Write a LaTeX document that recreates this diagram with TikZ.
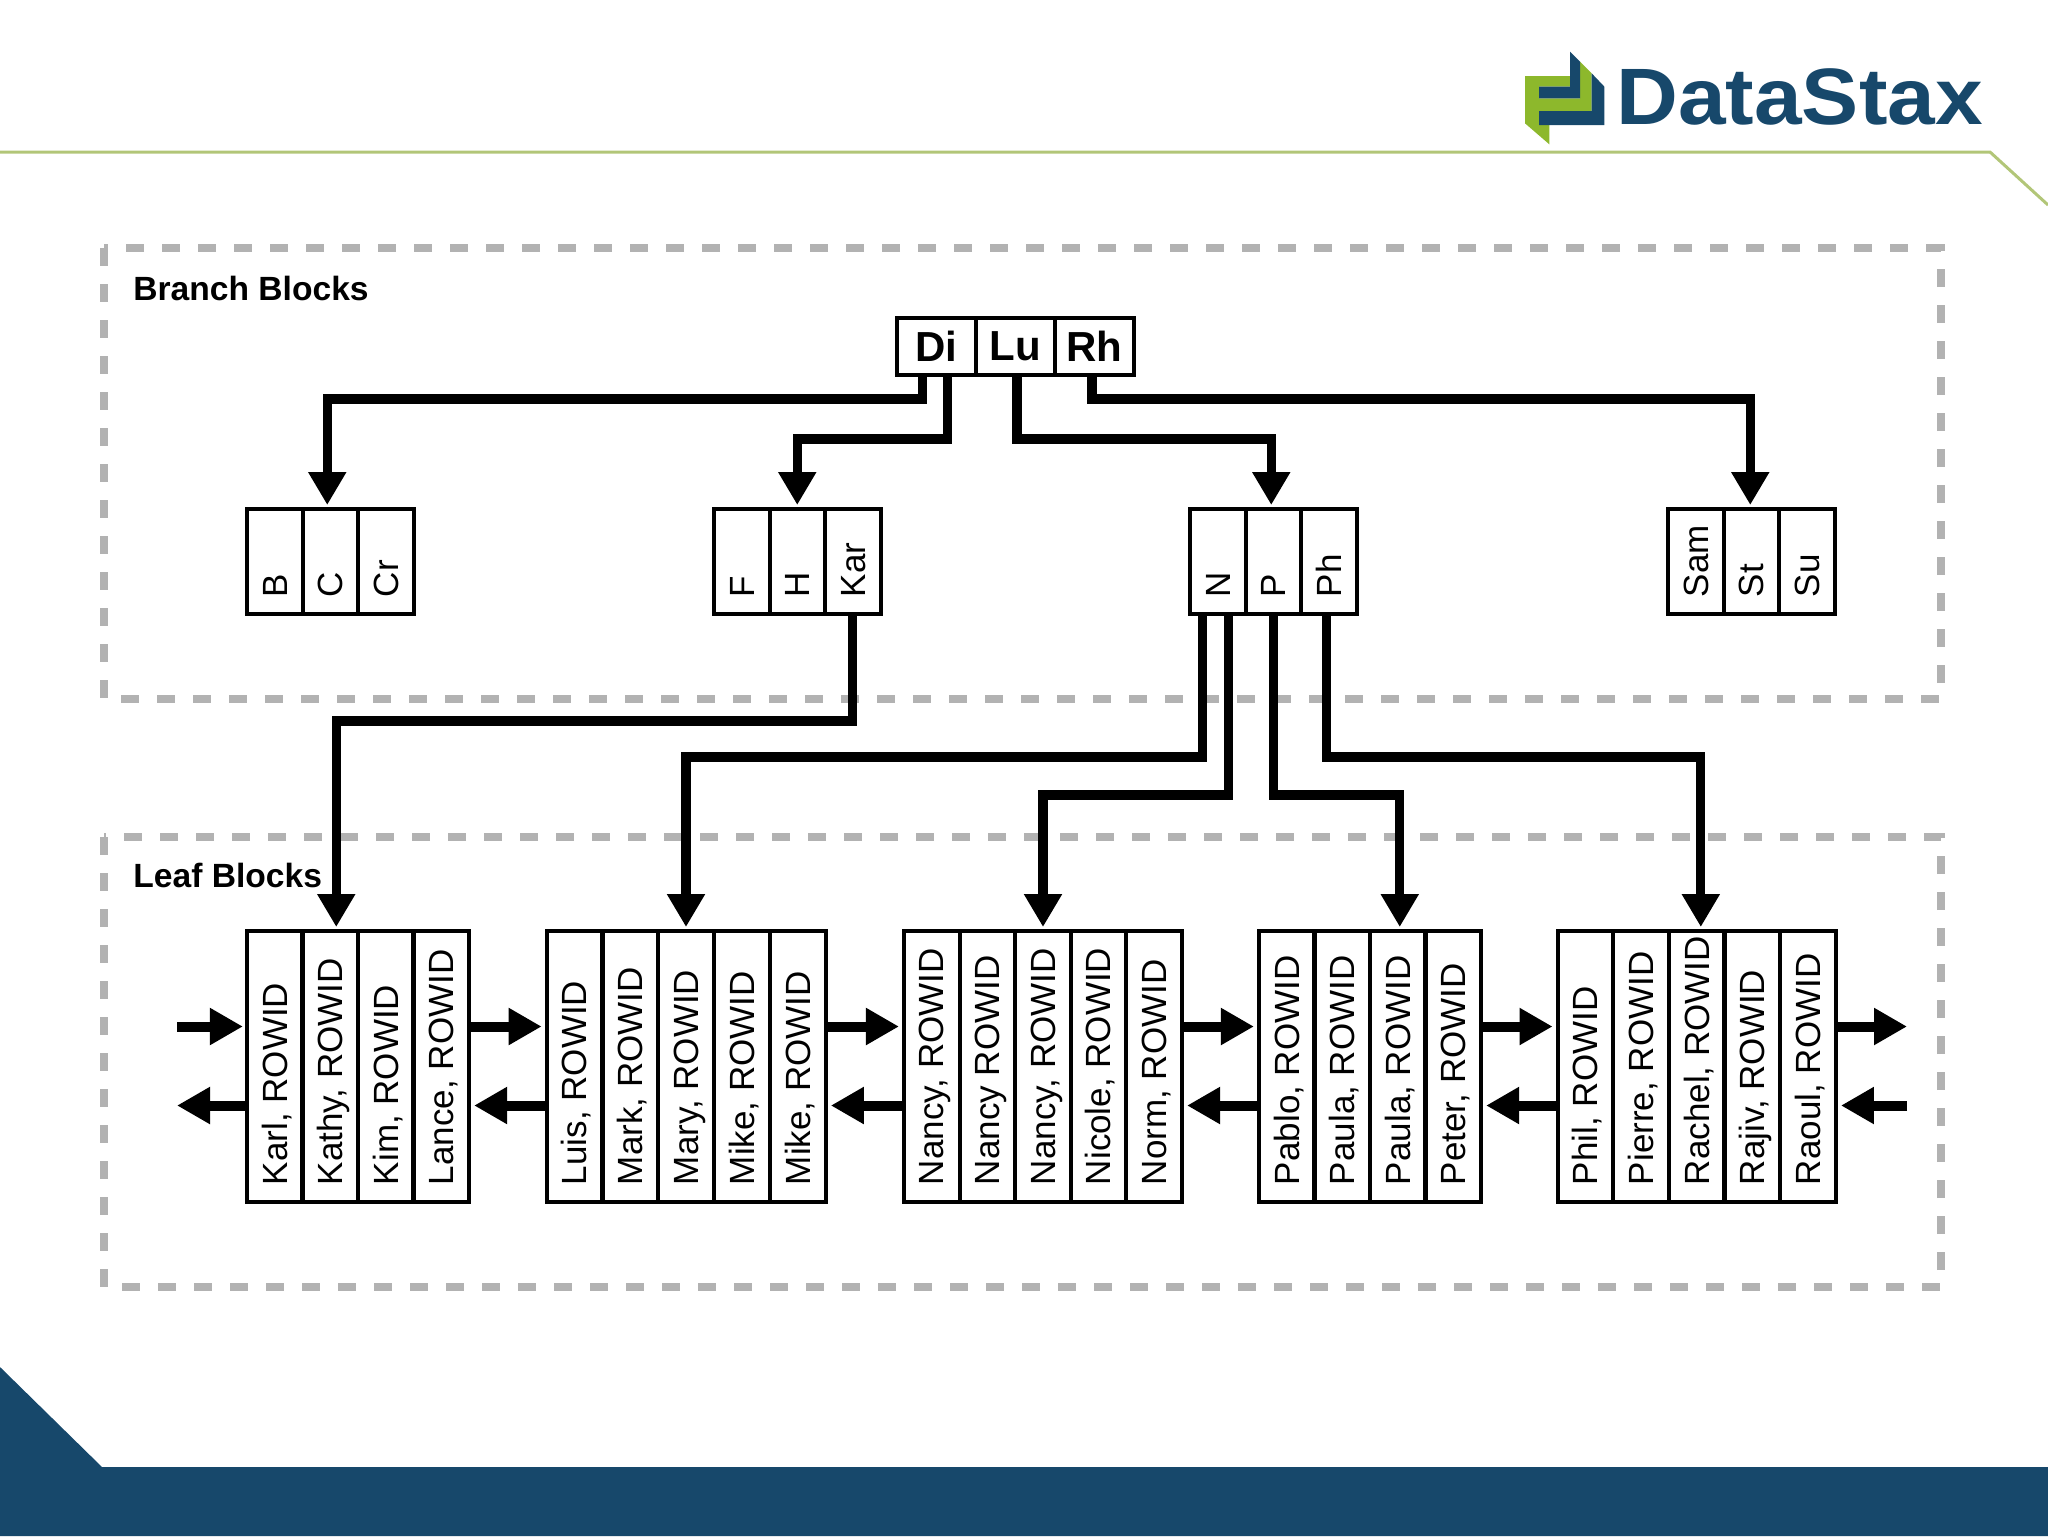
\documentclass[tikz,border=0pt]{standalone}
\usepackage{fontspec}
\setmainfont{Liberation Sans}
\usepackage{xcolor}
\usetikzlibrary{arrows.meta}
\definecolor{mynavy}{RGB}{23,72,107}
\definecolor{mygreen}{RGB}{141,184,44}
\definecolor{myline}{RGB}{178,198,120}
\definecolor{myframe}{RGB}{178,178,178}

\newcommand{\vlabel}[2]{\rotatebox{90}{\makebox[#1][l]{\hspace{8.5pt}\rule[-.2em]{0pt}{1.1em}#2}}}
\newcommand{\leaflabel}[1]{\vlabel{135.5pt}{#1}}
\newcommand{\branchlabel}[1]{\vlabel{52.5pt}{#1}}

\tikzset{
  blockframe/.style={draw=myframe,line width=4pt,dash pattern=on 9pt off 9pt},
  rootcell/.style={draw,line width=2pt,inner sep=0pt,minimum width=39.5pt,minimum height=28.5pt,font=\fontsize{21}{25}\bfseries},
  branchcell/.style={draw,line width=2pt,inner sep=0pt,minimum width=27.75pt,minimum height=52.5pt,font=\fontsize{17.5}{21}\selectfont},
  leafcell/.style={draw,line width=2pt,inner sep=0pt,minimum width=27.85pt,minimum height=135.5pt,font=\fontsize{17.5}{21}\selectfont},
  blocktitle/.style={anchor=west,inner sep=0pt,font=\fontsize{16.8}{20}\bfseries},
  treelink/.style={line width=4.6pt,-{Triangle[length=16.5pt,width=18pt]},shorten >=1pt},
  chainlink/.style={line width=5pt,-{Triangle[length=16.5pt,width=17.5pt]}},
}

\begin{document}
\begin{tikzpicture}[x=0.5pt,y=-0.5pt]
\useasboundingbox (0,0) rectangle (2048,1536);

% slide furniture
\fill[color=mynavy] (0,1367) -- (102,1467) -- (2048,1467) -- (2048,1536) -- (0,1536) -- cycle;
\draw[color=myline,line width=1.5pt] (0,152) -- (1990,152) -- (2048,205);

\begin{scope}[shift={(1515,45)},x=0.1667pt,y=-0.1667pt]
\fill[color=mygreen] (30,93) -- (165,93) -- (165,125) -- (72,125) -- (72,160) -- (195,160) -- (195,50) -- (230,85) -- (230,198) -- (72,198) -- (72,240) -- (103,240) -- (103,298) -- (30,235) -- cycle;
\fill[color=mynavy] (165,20) -- (195,50) -- (195,160) -- (72,160) -- (72,125) -- (165,125) -- cycle;
\fill[color=mynavy] (230,85) -- (268,125) -- (268,240) -- (72,240) -- (72,198) -- (230,198) -- cycle;
\end{scope}
\node[anchor=base west,inner sep=0pt,color=mynavy,xscale=1.07,font=\fontsize{40}{48}\bfseries] (logotext) at (1616,125) {DataStax};

% frames
\draw[blockframe] (104,248) rectangle (1941,699);
\draw[blockframe] (104,837) rectangle (1941,1287);
\node[blocktitle] (branchtitle) at (133,288) {Branch Blocks};
\node[blocktitle] (leaftitle) at (133,875) {Leaf Blocks};

% root block
\node[rootcell] (cDi) at (936.5,346.5) {Di};
\node[rootcell] (cLu) at (1015,346.5) {Lu};
\node[rootcell] (cRh) at (1094.5,346.5) {Rh};

% branch blocks
\node[branchcell] (cB) at (274.75,561.5) {\branchlabel{B}};
\node[branchcell] (cC) at (330.25,561.5) {\branchlabel{C}};
\node[branchcell] (cCr) at (385.75,561.5) {\branchlabel{Cr}};

\node[branchcell] (cF) at (741.75,561.5) {\branchlabel{F}};
\node[branchcell] (cH) at (797.25,561.5) {\branchlabel{H}};
\node[branchcell] (cKar) at (852.75,561.5) {\branchlabel{Kar}};

\node[branchcell] (cN) at (1217.75,561.5) {\branchlabel{N}};
\node[branchcell] (cP) at (1273.25,561.5) {\branchlabel{P}};
\node[branchcell] (cPh) at (1328.75,561.5) {\branchlabel{Ph}};

\node[branchcell] (cSam) at (1695.75,561.5) {\branchlabel{Sam}};
\node[branchcell] (cSt) at (1751.25,561.5) {\branchlabel{St}};
\node[branchcell] (cSu) at (1806.75,561.5) {\branchlabel{Su}};

% leaf blocks
\node[leafcell] (cKarl) at (274.75,1066.5) {\leaflabel{Karl, ROWID}};
\node[leafcell] (cKathy) at (330.25,1066.5) {\leaflabel{Kathy, ROWID}};
\node[leafcell] (cKim) at (385.75,1066.5) {\leaflabel{Kim, ROWID}};
\node[leafcell] (cLance) at (441.25,1066.5) {\leaflabel{Lance, ROWID}};

\node[leafcell] (cLuis) at (574.5,1066.5) {\leaflabel{Luis, ROWID}};
\node[leafcell] (cMark) at (630.5,1066.5) {\leaflabel{Mark, ROWID}};
\node[leafcell] (cMary) at (686,1066.5) {\leaflabel{Mary, ROWID}};
\node[leafcell] (cMikeA) at (742,1066.5) {\leaflabel{Mike, ROWID}};
\node[leafcell] (cMikeB) at (798,1066.5) {\leaflabel{Mike, ROWID}};

\node[leafcell] (cNancyA) at (931.8,1066.5) {\leaflabel{Nancy, ROWID}};
\node[leafcell] (cNancyB) at (987.4,1066.5) {\leaflabel{Nancy ROWID}};
\node[leafcell] (cNancyC) at (1043,1066.5) {\leaflabel{Nancy, ROWID}};
\node[leafcell] (cNicole) at (1098.6,1066.5) {\leaflabel{Nicole, ROWID}};
\node[leafcell] (cNorm) at (1154.2,1066.5) {\leaflabel{Norm, ROWID}};

\node[leafcell] (cPablo) at (1286.75,1066.5) {\leaflabel{Pablo, ROWID}};
\node[leafcell] (cPaulaA) at (1342.25,1066.5) {\leaflabel{Paula, ROWID}};
\node[leafcell] (cPaulaB) at (1397.75,1066.5) {\leaflabel{Paula, ROWID}};
\node[leafcell] (cPeter) at (1453.25,1066.5) {\leaflabel{Peter, ROWID}};

\node[leafcell] (cPhil) at (1585.4,1066.5) {\leaflabel{Phil, ROWID}};
\node[leafcell] (cPierre) at (1641.2,1066.5) {\leaflabel{Pierre, ROWID}};
\node[leafcell] (cRachel) at (1696.8,1066.5) {\leaflabel{Rachel, ROWID}};
\node[leafcell] (cRajiv) at (1752.3,1066.5) {\leaflabel{Rajiv, ROWID}};
\node[leafcell] (cRaoul) at (1808.1,1066.5) {\leaflabel{Raoul, ROWID}};

% root to branch
\draw[treelink] ([xshift=-7pt]cDi.south) -- ++(0,22) -| ([xshift=-1.5pt]cC.north);
\draw[treelink] ([xshift=5.5pt]cDi.south) -- ++(0,62) -| (cH.north);
\draw[treelink] ([xshift=1pt]cLu.south) -- ++(0,62) -| ([xshift=-1pt]cP.north);
\draw[treelink] ([xshift=-1.25pt]cRh.south) -- ++(0,22) -| ([xshift=-0.5pt]cSt.north);

% branch to leaf
\draw[treelink] (cKar.south) -- ++(0,105) -| ([xshift=3pt]cKathy.north);
\draw[treelink] ([xshift=-7.5pt]cN.south) -- ++(0,141) -| (cMary.north);
\draw[treelink] ([xshift=5.5pt]cN.south) -- ++(0,179) -| (cNancyC.north);
\draw[treelink] (cP.south) -- ++(0,179) -| ([xshift=1pt]cPaulaB.north);
\draw[treelink] ([xshift=-1pt]cPh.south) -- ++(0,141) -| ([xshift=2pt]cRachel.north);

% sibling chain
\coordinate (chainleftA) at (177,1026.5);
\coordinate (chainleftB) at (177,1105.5);
\coordinate (chainrightA) at (1907,1026.5);
\coordinate (chainrightB) at (1907,1105.5);

\draw[chainlink,shorten >=1pt] (chainleftA) -- (cKarl.west |- chainleftA);
\draw[chainlink] (cKarl.west |- chainleftB) -- (chainleftB);

\draw[chainlink,shorten >=1.5pt] (cLance.east |- chainleftA) -- (cLuis.west |- chainleftA);
\draw[chainlink,shorten >=1.5pt] (cLuis.west |- chainleftB) -- (cLance.east |- chainleftB);

\draw[chainlink,shorten >=1.5pt] (cMikeB.east |- chainleftA) -- (cNancyA.west |- chainleftA);
\draw[chainlink,shorten >=1.5pt] (cNancyA.west |- chainleftB) -- (cMikeB.east |- chainleftB);

\draw[chainlink,shorten >=1.5pt] (cNorm.east |- chainleftA) -- (cPablo.west |- chainleftA);
\draw[chainlink,shorten >=1.5pt] (cPablo.west |- chainleftB) -- (cNorm.east |- chainleftB);

\draw[chainlink,shorten >=1.5pt] (cPeter.east |- chainleftA) -- (cPhil.west |- chainleftA);
\draw[chainlink,shorten >=1.5pt] (cPhil.west |- chainleftB) -- (cPeter.east |- chainleftB);

\draw[chainlink] (cRaoul.east |- chainrightA) -- (chainrightA);
\draw[chainlink,shorten >=1.5pt] (chainrightB) -- (cRaoul.east |- chainrightB);

\end{tikzpicture}
\end{document}
